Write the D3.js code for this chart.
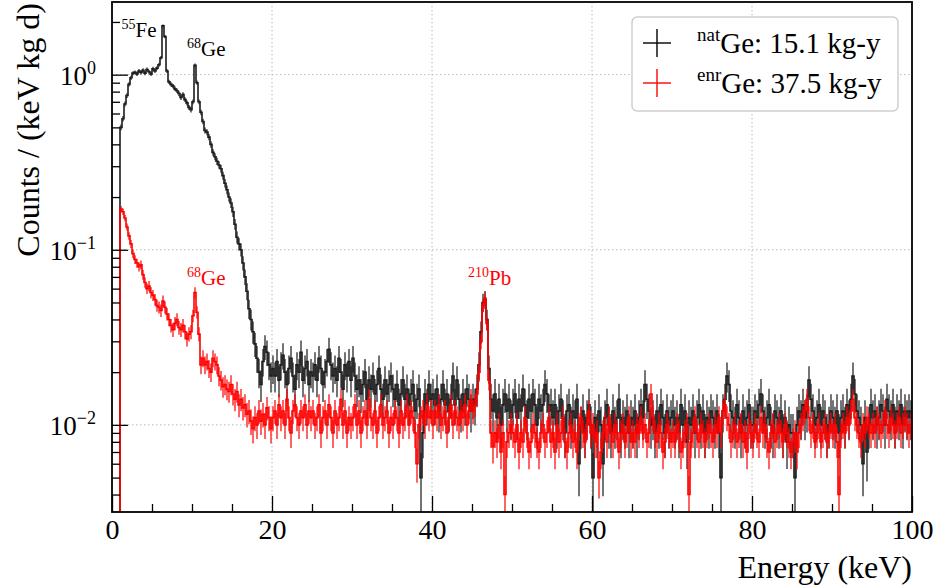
<!DOCTYPE html>
<html><head><meta charset="utf-8">
<script src="https://cdn.jsdelivr.net/npm/d3@7"></script>
<style>
body{margin:0;background:#fff}
svg{display:block;font-family:"Liberation Serif","Times New Roman",serif}
</style>
</head><body>
<svg id="c" width="940" height="587"></svg>
<script>
// ---------------- data ----------------
// histogram bins: lower edge of first bin and bin width (keV)
const binStart = 1.0;
const binWidth = 0.25;
// values in units of 1e-3 counts / (keV kg d)
const valueUnit = 1e-3;
const natGe = [
 500,560,680,760,880,960,1020,1030,1010,1050,1030,1060,1020,1070,1040,1010,1080,1050,1090,1140,
 1250,1900,1650,1050,910,880,860,830,810,780,740,770,720,690,650,630,700,1130,900,700,
 610,540,480,470,440,400,360,340,320,305,290,265,240,220,200,185,165,140,118,108,
 100,84,70,58,46,40,34,29,24,20,17,23,28,26,22,19,
 21,19,23,18,22,25,20,17,21,24,19,16,22,20,26,18,21,23,17,20,
 19,22,18,24,21,17,20,23,27,22,19,21,18,24,20,16,22,19,23,18,
 24,19,16,18,15,17,20,14,18,16,19,15,17,21,16,14,18,15,17,19,
 16,14,17,13,15,18,14,16,13,15,17,12,14,16,5,9,15,13,17,14,
 15,13,16,12,14,17,13,15,12,14,19,13,18,14,12,15,13,16,14,12,
 14,13,16,22,34,50,52,40,21,14,12,15,11,14,10,13,15,12,14,11,
 13,15,11,14,12,16,13,11,14,12,15,13,10,14,12,13,17,15,12,13,
 11,13,10,12,14,11,9,12,13,10,12,11,14,6,10,12,9,11,13,10,
 5,11,9,12,10,6,11,13,10,9,12,10,11,14,9,11,10,12,9,11,
 10,12,9,11,13,11,17,14,12,10,11,9,12,10,13,11,9,12,10,11,
 12,10,11,9,13,10,12,8,11,10,12,9,11,13,10,12,9,11,10,12,
 11,10,12,9,5,12,14,19,17,12,11,10,13,11,9,12,10,11,13,10,
 10,12,11,13,15,12,10,11,13,10,9,12,11,10,12,9,11,8,10,9,
 9,5,10,12,11,13,11,12,18,14,12,10,11,13,10,12,11,9,10,12,
 11,10,12,9,11,12,10,13,11,14,19,15,12,11,10,6,11,7,10,13,
 11,12,10,11,13,12,10,14,12,11,13,10,12,11,13,10,12,11,12,11
];
const enrGe = [
 171,165,152,135,120,108,95,88,84,80,82,72,65,60,62,57,55,52,48,47,
 45,51,47,43,40,37,35,38,40,36,35,37,34,31,33,34,42,57,44,33,
 22,24,22,23,21,20,24,23,22,19,18,16.5,17,16,15.5,17,15,14,15.5,13,
 14,12.5,13,11.5,12,10.5,9.5,11,10,12,10.5,11.5,10,12.5,11,9.5,
 11,12,10,13,11,12,10,14,11,9,12,13,11,10,12,11,13,10,12,11,
 12,10,11,13,9,11,12,10,13,11,9,12,10,11,14,10,12,9,11,10,
 11,13,10,12,9,11,12,10,14,11,10,12,9,11,13,10,11,12,9,11,
 10,12,11,9,12,10,11,13,10,12,11,9,6,10,11,12,10,13,11,12,
 10,12,11,13,10,11,12,9,11,13,10,12,11,10,12,11,13,10,12,14,
 12,13,15,20,30,48,53,38,18,9,7.5,9,8,10,7,9,4,8,9,10,
 9,8,10,7,9,8,11,9,7,8,10,9,8,7,9,10,8,9,11,8,
 9,7,10,8,9,11,8,7,9,10,8,9,7,10,11,9,8,10,12,9,
 10,8,9,5,7,9,10,8,11,9,8,10,9,7,9,10,8,9,11,8,
 9,8,10,9,11,9,10,8,9,15,11,9,8,10,9,7,8,10,9,8,
 9,8,10,9,7,8,9,10,4,8,9,11,9,8,10,9,8,9,10,9,
 8,10,9,11,9,12,13,11,10,8,9,10,8,9,10,8,9,7,10,9,
 8,10,9,8,11,9,10,8,7,9,10,8,9,10,9,8,10,9,8,7,
 8,9,7,9,10,11,12,14,11,9,10,8,9,10,8,9,10,8,9,10,
 9,10,8,4,9,10,9,11,10,12,14,11,10,9,8,10,9,11,10,9,
 10,9,11,10,9,10,12,10,9,11,10,9,10,11,9,10,11,10,9,10
];
// exposures (kg-y)
const exposureNat = 15.1;
const exposureEnr = 37.5;
const seriesNames = ["nat", "enr"];
const seriesLabels = ["Ge: 15.1 kg-y", "Ge: 37.5 kg-y"];
// axes
const xDomain = [0, 100];
const yDomain = [0.00318, 2.6];
const xTicks = [0, 20, 40, 60, 80, 100];
const xMinorTicks = [5,10,15,25,30,35,45,50,55,65,70,75,85,90,95];
const yTicks = [0.01, 0.1, 1];
const yTickExps = ["\u22122", "\u22121", "0"];
// peak annotations: superscript, element, anchor energy, anchor value, series
const peakSup = ["55", "68", "68", "210"];
const peakEl = ["Fe", "Ge", "Ge", "Pb"];
const peakE = [1.2, 9.375, 9.375, 44.5];
const peakV = [1.65, 1.28, 0.063, 0.063];
const peakSeries = [0, 0, 1, 1];

// ---------------- drawing ----------------
const colors = ["#000000", "#ff0000"];
const svg = d3.select("#c");
const m = {l:112, t:2, r:912, b:512};
const x = d3.scaleLinear().domain(xDomain).range([m.l, m.r]);
const y = d3.scaleLog().domain(yDomain).range([m.b, m.t]);

svg.append("rect").attr("width",940).attr("height",587).attr("fill","#fff");
svg.append("defs").append("clipPath").attr("id","clip")
  .append("rect").attr("x",m.l).attr("y",m.t).attr("width",m.r-m.l).attr("height",m.b-m.t);

// grid
const grid = svg.append("g").attr("stroke","#b8b8b8").attr("stroke-width",1).attr("stroke-dasharray","1.5,2.5");
xTicks.filter(v=>v>xDomain[0] && v<xDomain[1]).forEach(v=>
  grid.append("line").attr("x1",x(v)).attr("x2",x(v)).attr("y1",m.t).attr("y2",m.b));
yTicks.forEach(v=>
  grid.append("line").attr("x1",m.l).attr("x2",m.r).attr("y1",y(v)).attr("y2",y(v)));

function drawSeries(vals, exposureKgY, color){
  const expo = exposureKgY*365.25;
  const data = vals.map((v,i)=>({lo: binStart+i*binWidth, v: v*valueUnit}));
  const g = svg.append("g").attr("clip-path","url(#clip)");
  const err = d => Math.sqrt(d.v/(binWidth*expo));
  g.selectAll("line").data(data).join("line")
    .attr("x1", d=>x(d.lo+binWidth/2)).attr("x2", d=>x(d.lo+binWidth/2))
    .attr("y1", d=>y(d.v+err(d)))
    .attr("y2", d=>y(Math.max(d.v-err(d), 1e-6)))
    .attr("stroke", color).attr("stroke-width",1.7).attr("stroke-opacity",0.72);
  const pts = [[binStart, 1e-6]].concat(data.map(d=>[d.lo, d.v]), [[xDomain[1], data[data.length-1].v]]);
  g.append("path")
    .attr("d", d3.line().x(p=>x(p[0])).y(p=>y(p[1])).curve(d3.curveStepAfter)(pts))
    .attr("fill","none").attr("stroke",color).attr("stroke-width",1.6).attr("stroke-linejoin","miter");
}
drawSeries(natGe, exposureNat, "#1c1c1c");
drawSeries(enrGe, exposureEnr, colors[1]);

// frame
svg.append("rect").attr("x",m.l).attr("y",m.t).attr("width",m.r-m.l).attr("height",m.b-m.t)
  .attr("fill","none").attr("stroke","#000").attr("stroke-width",1.8);

// x axis
const gx = svg.append("g").attr("transform",`translate(0,${m.b})`)
  .call(d3.axisBottom(x).tickValues(xTicks).tickSize(-16).tickSizeOuter(0).tickPadding(7).tickFormat(d3.format("d")));
gx.select(".domain").remove();
gx.selectAll(".tick line").attr("stroke","#000").attr("stroke-width",1.3);
gx.selectAll(".tick text").attr("font-family","Liberation Serif").attr("font-size",28).attr("fill","#000");
const gxm = svg.append("g").attr("transform",`translate(0,${m.b})`)
  .call(d3.axisBottom(x).tickValues(xMinorTicks).tickSize(-8).tickSizeOuter(0).tickFormat(""));
gxm.select(".domain").remove();
gxm.selectAll(".tick line").attr("stroke","#000").attr("stroke-width",1.3);

// y axis
const gy = svg.append("g").attr("transform",`translate(${m.l},0)`)
  .call(d3.axisLeft(y).tickValues(yTicks).tickSize(-16).tickSizeOuter(0).tickPadding(16).tickFormat(""));
gy.select(".domain").remove();
gy.selectAll(".tick line").attr("stroke","#000").attr("stroke-width",1.3);
gy.selectAll(".tick text").each(function(d,i){
  const t = d3.select(this).attr("font-family","Liberation Serif").attr("font-size",27).attr("fill","#000").attr("dy","0.36em");
  t.append("tspan").text("10");
  t.append("tspan").attr("dy",-11).attr("font-size",18).text(yTickExps[i]);
});
const yMinor = [];
[0.001,0.01,0.1,1].forEach(dec=>{ for(let k=2;k<=9;k++){ const v=k*dec; if(v>yDomain[0] && v<yDomain[1]) yMinor.push(v);} });
const gym = svg.append("g").attr("transform",`translate(${m.l},0)`)
  .call(d3.axisLeft(y).tickValues(yMinor).tickSize(-8).tickSizeOuter(0).tickFormat(""));
gym.select(".domain").remove();
gym.selectAll(".tick line").attr("stroke","#000").attr("stroke-width",1.3);

// axis titles
svg.append("text").attr("x",m.r).attr("y",578).attr("text-anchor","end")
  .attr("font-size",32).attr("fill","#000").text("Energy (keV)");
svg.append("text").attr("transform",`translate(39,3) rotate(-90)`).attr("text-anchor","end")
  .attr("font-size",32).attr("fill","#000").text("Counts / (keV kg d)");

// peak labels
peakSup.forEach((s,i)=>{
  const t = svg.append("text").attr("x",x(peakE[i])).attr("y",y(peakV[i]))
    .attr("fill",colors[peakSeries[i]]).attr("font-size",21);
  t.append("tspan").attr("font-size",14).attr("dy",-8).text(s);
  t.append("tspan").attr("dy",8).text(peakEl[i]);
});

// legend
const lg = svg.append("g");
lg.append("rect").attr("x",632).attr("y",17).attr("width",266).attr("height",94).attr("rx",5)
  .attr("fill","#fff").attr("stroke","#cfcfcf").attr("stroke-width",1.5);
seriesNames.forEach((n,i)=>{
  const cy = 43 + i*40, cx = 657;
  lg.append("line").attr("x1",cx-14).attr("x2",cx+14).attr("y1",cy).attr("y2",cy).attr("stroke",colors[i]).attr("stroke-width",1.4);
  lg.append("line").attr("x1",cx).attr("x2",cx).attr("y1",cy-14).attr("y2",cy+14).attr("stroke",colors[i]).attr("stroke-width",1.4);
  const t = lg.append("text").attr("x",697).attr("y",cy+10).attr("font-size",29).attr("fill","#000");
  t.append("tspan").attr("font-size",19).attr("dy",-12).text(n);
  t.append("tspan").attr("dy",12).text(seriesLabels[i]);
});
</script>
</body></html>
